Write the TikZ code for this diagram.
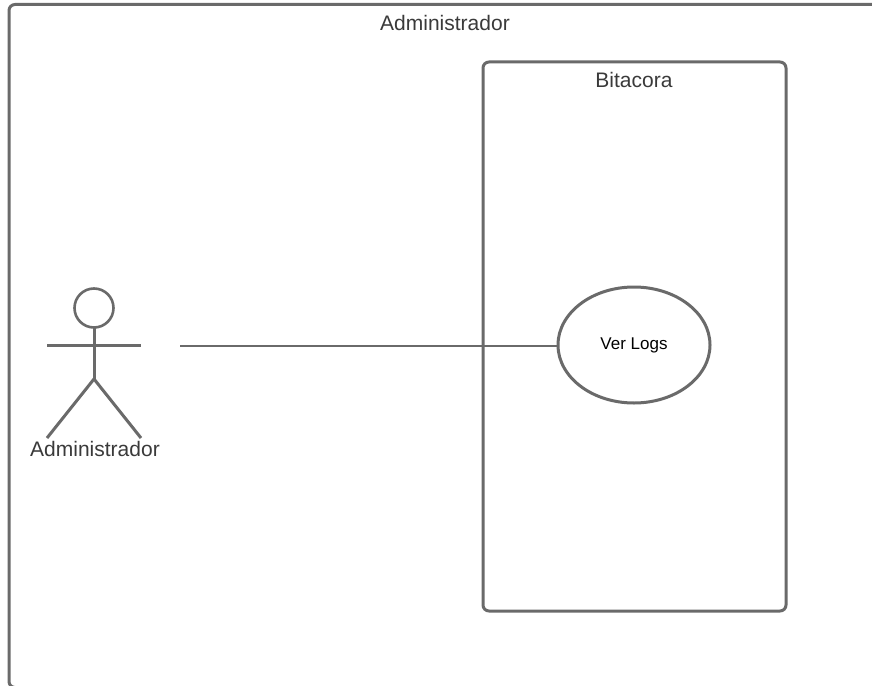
\documentclass[tikz,border=0pt]{standalone}
\usepackage{fontspec}
\setmainfont{Liberation Sans}
\usetikzlibrary{shapes.geometric}
\definecolor{linegray}{HTML}{6A6A6A}
\definecolor{textgray}{HTML}{3A3A3A}
\tikzset{
  frame/.style={draw=linegray,line width=3pt,rounded corners=6pt},
  stick/.style={draw=linegray,line width=3pt},
  label/.style={text=textgray,font=\fontsize{21}{24}\selectfont,inner sep=0pt},
  usecase/.style={ellipse,draw=linegray,line width=3pt,minimum width=152pt,minimum height=116pt,inner sep=0pt,font=\fontsize{17}{20}\selectfont,text=black},
  assoc/.style={draw=linegray,line width=2pt}
}
\begin{document}
\begin{tikzpicture}[x=1pt,y=-1pt]
\useasboundingbox (0,0) rectangle (872,685);
\fill[white] (0,0) rectangle (872,685);
\begin{scope}
\clip (0,0) rectangle (872,685);
\draw[frame] (9,4.5) rectangle (890,687.5);
\end{scope}
\node[label] (outerlabel) at (445,23) {Administrador};
\draw[frame] (483,62) rectangle (786,611);
\node[label] (boxlabel) at (634,80) {Bitacora};
\node[usecase] (logs) at (634,345) {Ver Logs};
\coordinate (head) at (94,308);
\draw[stick,line width=2.6pt] (head) circle (19.5);
\coordinate (neck) at (94,327.5);
\coordinate (hip) at (94,379);
\coordinate (handl) at (47,345);
\coordinate (handr) at (141,345);
\coordinate (footl) at (47,438);
\coordinate (footr) at (141,438);
\draw[stick] (neck) -- (hip);
\draw[stick] (handl) -- (handr);
\draw[stick] (footl) -- (hip) -- (footr);
\node[label] (actor) at (95,449) {Administrador};
\coordinate (assocstart) at (180,346);
\draw[assoc] (assocstart) -- (assocstart -| logs.west);
\end{tikzpicture}
\end{document}
